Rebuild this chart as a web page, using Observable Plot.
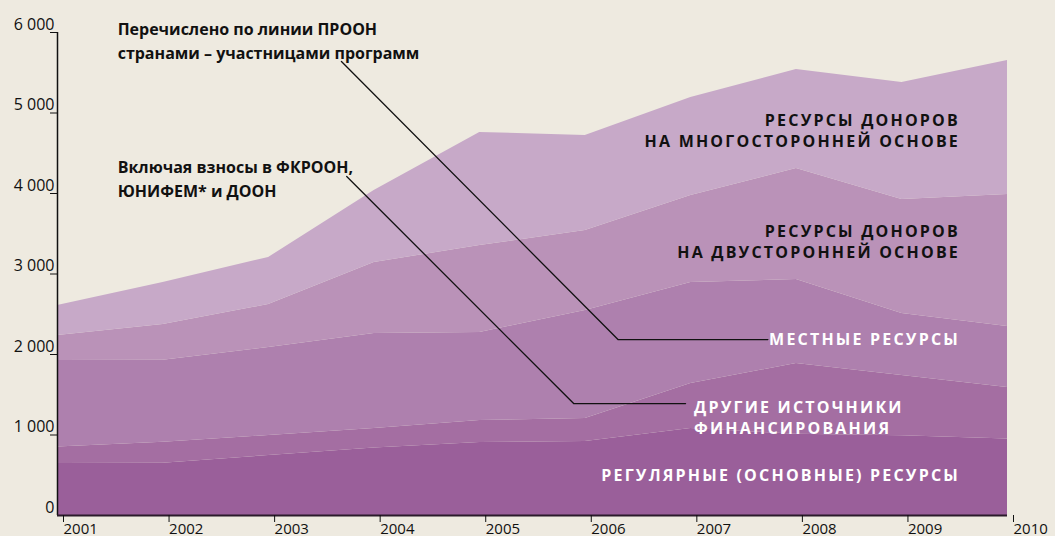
<!DOCTYPE html>
<html>
<head>
<meta charset="utf-8">
<script src="https://cdn.jsdelivr.net/npm/d3@7"></script>
<script src="https://cdn.jsdelivr.net/npm/@observablehq/plot@0.6"></script>
<style>
  html, body { margin: 0; padding: 0; background: #eeeae0; }
  #chart { width: 1055px; height: 536px; }
</style>
</head>
<body>
<div id="chart"></div>
<script>
// ---- data (millions USD) ----
const years = [2001, 2002, 2003, 2004, 2005, 2006, 2007, 2008, 2009, 2010];
const regularResources   = [646, 650, 745, 840, 907, 919, 1080, 1010, 990, 950];
const otherSources       = [204, 260, 249, 241, 273, 286, 560, 878, 749, 640];
const localResources     = [1075, 1020, 1093, 1180, 1093, 1342, 1254, 1044, 770, 758];
const bilateralDonors    = [311, 443, 534, 882, 1081, 993, 1081, 1379, 1416, 1640];
const multilateralDonors = [373, 521, 584, 894, 1404, 1180, 1218, 1229, 1454, 1664];

const seriesNames = ["regular", "other", "local", "bilateral", "multilateral"];
const seriesValues = [regularResources, otherSources, localResources, bilateralDonors, multilateralDonors];
const seriesColors = ["#9a5f9a", "#a46ea2", "#ae80ae", "#ba92b8", "#c7a9c8"];

const yTicks = [0, 1000, 2000, 3000, 4000, 5000, 6000];
const yTickLabels = ["0", "1 000", "2 000", "3 000", "4 000", "5 000", "6 000"];
const xTickLabels = ["2001", "2002", "2003", "2004", "2005", "2006", "2007", "2008", "2009", "2010"];

// in-chart labels (year, value anchors)
const darkLabels = [
  {x: 2009.55, y: 4790, text: "РЕСУРСЫ ДОНОРОВ\nНА МНОГОСТОРОННЕЙ ОСНОВЕ"},
  {x: 2009.55, y: 3410, text: "РЕСУРСЫ ДОНОРОВ\nНА ДВУСТОРОННЕЙ ОСНОВЕ"}
];
const whiteRightLabels = [
  {x: 2009.55, y: 2199, text: "МЕСТНЫЕ РЕСУРСЫ"},
  {x: 2009.55, y: 509, text: "РЕГУЛЯРНЫЕ (ОСНОВНЫЕ) РЕСУРСЫ"}
];
const whiteLeftLabels = [
  {x: 2007.03, y: 1224, text: "ДРУГИЕ ИСТОЧНИКИ\nФИНАНСИРОВАНИЯ"}
];
const notes = [
  {x: 2001.57, y: 5910, text: "Перечислено по линии ПРООН\nстранами – участницами программ"},
  {x: 2001.57, y: 4200, text: "Включая взносы в ФКРООН,\nЮНИФЕМ* и ДООН"}
];
const leaderLines = [
  {id: "a", x: 2003.69, y: 5640}, {id: "a", x: 2006.31, y: 2186}, {id: "a", x: 2007.73, y: 2186},
  {id: "b", x: 2003.74, y: 4211}, {id: "b", x: 2005.89, y: 1391}, {id: "b", x: 2006.95, y: 1391}
];

const table = years.flatMap((yr, i) =>
  seriesNames.map((s, k) => ({year: yr, series: s, value: seriesValues[k][i]})));

const chart = Plot.plot({
  width: 1055,
  height: 536,
  marginLeft: 57,
  marginRight: 48,
  marginTop: 32,
  marginBottom: 21,
  style: {background: "#eeeae0", fontFamily: "'Open Sans', sans-serif", fontSize: "16px", color: "#111"},
  x: {domain: [2001, 2010]},
  y: {domain: [0, 6000]},
  color: {domain: seriesNames, range: seriesColors},
  marks: [
    Plot.areaY(table, {x: "year", y: "value", fill: "series", z: "series"}),
    Plot.ruleX([2001], {y1: 0, y2: 6000, stroke: "#111", strokeWidth: 1.5}),
    Plot.ruleY([0], {stroke: "#2b1b2b", strokeWidth: 2}),
    Plot.axisY({ticks: yTicks.slice(1), tickSize: 7, text: null, stroke: "#111"}),
    Plot.axisY({ticks: yTicks, tickSize: 0, tickPadding: 3, dy: -8,
      tickFormat: (d) => yTickLabels[yTicks.indexOf(d)], fill: "#111", label: null}),
    Plot.axisX({ticks: years, tickSize: 7, tickPadding: 1, textAnchor: "start", dx: 6, fontSize: 15,
      tickFormat: (d) => xTickLabels[years.indexOf(d)], fill: "#111", stroke: "#111", label: null}),
    Plot.line(leaderLines, {x: "x", y: "y", z: "id", stroke: "#111", strokeWidth: 1.3}),
    Plot.text(notes, {x: "x", y: "y", text: "text", textAnchor: "start", fontWeight: "bold",
      fontSize: 16, lineHeight: 1.5, fill: "#111"}),
    Plot.text(darkLabels, {x: "x", y: "y", text: "text", textAnchor: "end", fontWeight: "bold",
      fontSize: 16, lineHeight: 1.3, fill: "#111"}),
    Plot.text(whiteRightLabels, {x: "x", y: "y", text: "text", textAnchor: "end", fontWeight: "bold",
      fontSize: 16, lineHeight: 1.3, fill: "#fff"}),
    Plot.text(whiteLeftLabels, {x: "x", y: "y", text: "text", textAnchor: "start", fontWeight: "bold",
      fontSize: 16, lineHeight: 1.3, fill: "#fff"})
  ]
});
// letter-spaced capital labels
d3.select(chart).selectAll("text").each(function () {
  if (/^[А-ЯЁ ()]+$/.test(this.textContent)) this.setAttribute("letter-spacing", "2.2px");
});
document.getElementById("chart").append(chart);
</script>
</body>
</html>
